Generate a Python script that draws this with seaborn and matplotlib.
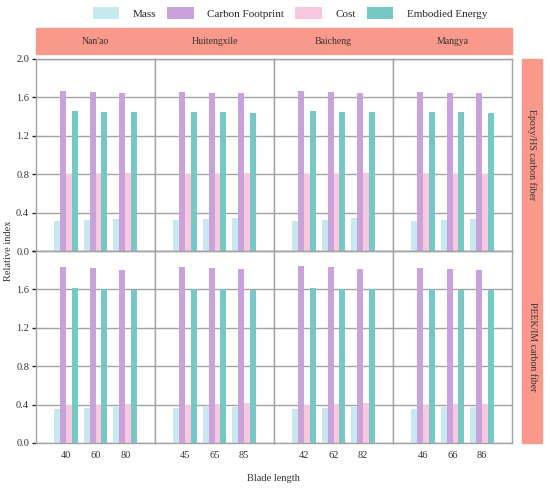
import seaborn as sns
import matplotlib.pyplot as plt
import pandas as pd
from matplotlib.patches import Rectangle, Patch

# sites (columns) and the blade lengths used at each one
sites = ["Nan'ao", "Huitengxile", "Baicheng", "Mangya"]
lengths = [[40, 60, 80], [45, 65, 85], [42, 62, 82], [46, 66, 86]]
materials = ["Epoxy/HS carbon fiber", "PEEK/IM carbon fiber"]
indicators = ["Mass", "Carbon Footprint", "Cost", "Embodied Energy"]

# values, ordered site by site, then blade length
epoxy_mass = [0.31, 0.32, 0.33, 0.32, 0.33, 0.34, 0.31, 0.32, 0.34, 0.31, 0.32, 0.33]
epoxy_carbon = [1.67, 1.66, 1.65, 1.655, 1.648, 1.642, 1.666, 1.655, 1.645, 1.659, 1.649, 1.642]
epoxy_cost = [0.80, 0.80, 0.81, 0.80, 0.80, 0.81, 0.80, 0.80, 0.81, 0.80, 0.80, 0.80]
epoxy_energy = [1.46, 1.45, 1.445, 1.448, 1.444, 1.437, 1.455, 1.451, 1.444, 1.45, 1.443, 1.437]

peek_mass = [0.35, 0.36, 0.37, 0.36, 0.374, 0.378, 0.353, 0.367, 0.374, 0.358, 0.372, 0.376]
peek_carbon = [1.837, 1.823, 1.80, 1.832, 1.818, 1.808, 1.846, 1.832, 1.811, 1.826, 1.809, 1.798]
peek_cost = [0.393, 0.397, 0.41, 0.399, 0.406, 0.42, 0.399, 0.406, 0.413, 0.40, 0.407, 0.41]
peek_energy = [1.61, 1.60, 1.59, 1.608, 1.605, 1.598, 1.619, 1.605, 1.605, 1.60, 1.593, 1.59]

palette = {"Mass": "#C8E8EF", "Carbon Footprint": "#C9A2DC",
           "Cost": "#F8C8E1", "Embodied Energy": "#76C8C5"}
strip_color = "#F9998B"
grid_color = "#A3A3A3"

# build a long table
series = {materials[0]: [epoxy_mass, epoxy_carbon, epoxy_cost, epoxy_energy],
          materials[1]: [peek_mass, peek_carbon, peek_cost, peek_energy]}
rows = []
for mat in materials:
    for ind, vals in zip(indicators, series[mat]):
        k = 0
        for s, lens in zip(sites, lengths):
            for L in lens:
                rows.append({"material": mat, "site": s, "length": str(L),
                             "indicator": ind, "value": vals[k]})
                k += 1
df = pd.DataFrame(rows)

sns.set_theme(style="white")
plt.rcParams['font.family'] = ['Liberation Serif', 'DejaVu Serif']

fig, axes = plt.subplots(2, 4, figsize=(5.5, 4.9), dpi=100)
fig.subplots_adjust(left=36 / 550, right=512 / 550, top=1 - 59 / 490,
                    bottom=1 - 443 / 490, wspace=0, hspace=0)

yt = [0, 0.4, 0.8, 1.2, 1.6, 2.0]
for r, mat in enumerate(materials):
    for c, s in enumerate(sites):
        ax = axes[r, c]
        sub = df[(df.material == mat) & (df.site == s)]
        sns.barplot(data=sub, x="length", y="value", hue="indicator",
                    order=[str(L) for L in lengths[c]], hue_order=indicators,
                    palette=palette, saturation=1, errorbar=None, width=0.8,
                    linewidth=0, legend=False, ax=ax)
        ax.set_xlim(-1, 3)
        ax.set_ylim(0, 2.0)
        ax.set_xlabel("")
        ax.set_ylabel("")
        ax.set_axisbelow(True)
        ax.yaxis.grid(True, color=grid_color, lw=1)
        for sp in ax.spines.values():
            sp.set_color(grid_color)
            sp.set_linewidth(1)
        ax.set_yticks(yt)
        if c == 0:
            labels = ["%.1f" % v for v in yt]
            if r == 1:
                labels[-1] = ""
            ax.set_yticklabels(labels)
        else:
            ax.set_yticklabels([])
        ax.tick_params(axis="x", length=0, labelsize=7.5, colors="#333333", pad=6)
        ax.tick_params(axis="y", length=3, width=1, direction="out",
                       labelsize=7.5, labelcolor="#333333", color="#222222",
                       left=(c == 0), pad=2)
        if r == 0:
            ax.tick_params(axis="x", labelbottom=False)

# strips: top (sites) and right (materials)
fig.patches.append(Rectangle((36 / 550, 1 - 54 / 490), (512 - 36) / 550, 26 / 490,
                             transform=fig.transFigure, color=strip_color, zorder=0))
fig.patches.append(Rectangle((522 / 550, 1 - 443 / 490), 20 / 550, 384 / 490,
                             transform=fig.transFigure, color=strip_color, zorder=0))
for c, s in enumerate(sites):
    pos = axes[0, c].get_position()
    fig.text((pos.x0 + pos.x1) / 2, 1 - 41 / 490, s, ha="center", va="center",
             fontsize=7, color="#333333")
for r, mat in enumerate(materials):
    pos = axes[r, 0].get_position()
    fig.text(532 / 550, (pos.y0 + pos.y1) / 2, mat, ha="center", va="center",
             rotation=270, fontsize=7, color="#333333")

# legend
handles = [Patch(facecolor=palette[i], edgecolor="none", label=i) for i in indicators]
fig.legend(handles=handles, ncol=4, loc="center", bbox_to_anchor=(0.527, 1 - 13 / 490),
           frameon=False, fontsize=8, handlelength=2.4, handleheight=1.3,
           handletextpad=1.2, columnspacing=1.0)

fig.text(0.015, 1 - 251 / 490, "Relative index", rotation=90, ha="center",
         va="center", fontsize=7.5, color="#333333")
fig.text(0.498, 1 - 478 / 490, "Blade length", ha="center", va="center",
         fontsize=7.5, color="#333333")

plt.savefig("out.png", dpi=100)
